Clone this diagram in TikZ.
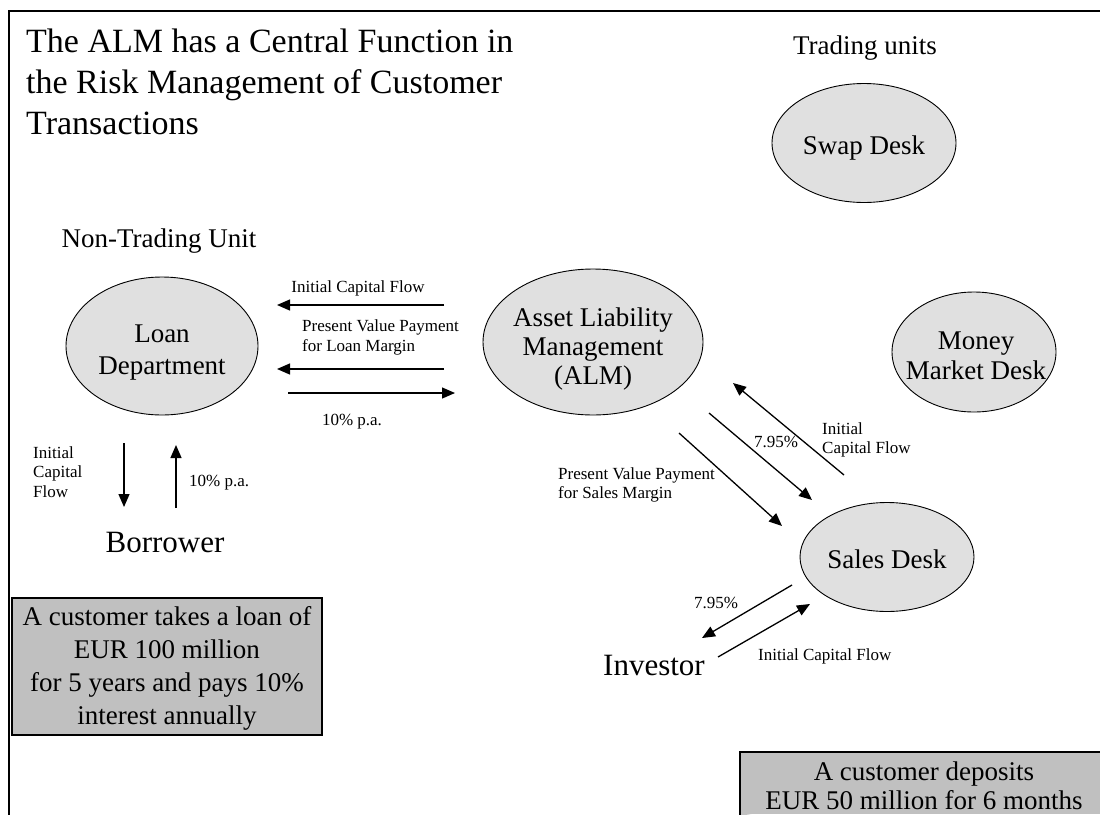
\documentclass[tikz,border=0pt]{standalone}
\usepackage{fontspec}
\setmainfont{Liberation Serif}
\usepackage{xcolor}
\usetikzlibrary{shapes.geometric,arrows.meta}
\definecolor{ovalgray}{HTML}{E0E0E0}
\definecolor{boxgray}{HTML}{C0C0C0}

\begin{document}
\begin{tikzpicture}[x=1pt, y=-1pt,
	unit/.style={ellipse, draw, line width=0.9pt, fill=ovalgray, inner sep=0pt},
	txt/.style={inner sep=0pt, align=center, font=\fontsize{27}{32}\selectfont},
	party/.style={inner sep=0pt, font=\fontsize{31}{37}\selectfont},
	lbl/.style={inner sep=0pt, align=left, font=\fontsize{17}{19.5}\selectfont},
	flow/.style={line width=1.3pt, -{Triangle[length=13pt, width=11pt]}}]
\useasboundingbox (0,0) rectangle (1100,814);
\clip (0,0) rectangle (1100,814);

% frame and boxes
\draw[line width=2pt] (9,816) -- (9,11) -- (1100,11);
\draw[line width=1.2pt, fill=boxgray] (12,598) rectangle (322,735);
\draw[line width=1.2pt, fill=boxgray] (740,816) -- (740,752) -- (1100,752);
\fill[boxgray] (740.6,752.6) rectangle (1100,814);

% texts
\node[txt, anchor=north west, align=left, font=\fontsize{34}{41}\selectfont] (title) at (26,29) {The ALM has a Central Function in\\the Risk Management of Customer\\Transactions};
\node[txt] (trading) at (865,48) {Trading units};
\node[txt] (nontrading) at (159,241) {Non-Trading Unit};
\node[txt, font=\fontsize{27}{33}\selectfont] (loanbox) at (167,668) {A customer takes a loan of\\EUR 100 million\\for 5 years and pays 10\%\\interest annually};
\node[txt, font=\fontsize{27}{29}\selectfont] (depositbox) at (924,786) {A customer deposits\\EUR 50 million for 6 months};

% units
\node[unit, minimum width=184pt, minimum height=119pt] (swap) at (864,143) {};
\node[unit, minimum width=192pt, minimum height=138pt] (loan) at (162,346) {};
\node[unit, minimum width=220pt, minimum height=146pt] (alm) at (593,342) {};
\node[unit, minimum width=164pt, minimum height=120pt] (money) at (974,352) {};
\node[unit, minimum width=174pt, minimum height=109pt] (sales) at (887,557) {};
\node[txt] (swaptxt) at ([yshift=-5pt]swap.center) {Swap Desk};
\node[txt] (loantxt) at ([yshift=-6.5pt]loan.center) {Loan\\Department};
\node[txt, font=\fontsize{27}{29}\selectfont] (almtxt) at ([yshift=-7.5pt]alm.center) {Asset Liability\\Management\\(ALM)};
\node[txt, font=\fontsize{27}{30}\selectfont] (moneytxt) at ([xshift=2pt, yshift=-3.5pt]money.center) {Money\\Market Desk};
\node[txt] (salestxt) at ([yshift=-2pt]sales.center) {Sales Desk};
\node[party] (borrower) at (165,542) {Borrower};
\node[party] (investor) at (654,665) {Investor};

% arrow ends
\coordinate (capL) at (444,305);  \coordinate (capLend) at (277,305);
\coordinate (pvL) at (444,369);   \coordinate (pvLend) at (277,369);
\coordinate (intL) at (288,393);  \coordinate (intLend) at (455,393);
\coordinate (capB) at (124,443);  \coordinate (capBend) at (124,507);
\coordinate (intB) at (176,508);  \coordinate (intBend) at (176,445);
\coordinate (capS) at (844,475);  \coordinate (capSend) at (733,383);
\coordinate (rateS) at (709,413); \coordinate (rateSend) at (812,500);
\coordinate (pvS) at (679,433);   \coordinate (pvSend) at (782,526);
\coordinate (rateI) at (792,585); \coordinate (rateIend) at (702,638);
\coordinate (capI) at (718,657);  \coordinate (capIend) at (810,604);

\draw[flow] (capL) -- (capLend);
\draw[flow] (pvL) -- (pvLend);
\draw[flow] (intL) -- (intLend);
\draw[flow] (capB) -- (capBend);
\draw[flow] (intB) -- (intBend);
\draw[flow] (capS) -- (capSend);
\draw[flow] (rateS) -- (rateSend);
\draw[flow] (pvS) -- (pvSend);
\draw[flow] (rateI) -- (rateIend);
\draw[flow] (capI) -- (capIend);

% labels
\node[lbl] (capLlbl) at (358,288) {Initial Capital Flow};
\node[lbl, anchor=west] (pvLlbl) at (302,337.5) {Present Value Payment\\for Loan Margin};
\node[lbl] (intLlbl) at (352,422) {10\% p.a.};
\node[lbl, anchor=west] (capBlbl) at (33,472) {Initial\\Capital\\Flow};
\node[lbl, anchor=west] (intBlbl) at (189,483) {10\% p.a.};
\node[lbl, anchor=west] (capSlbl) at (822,440) {Initial\\Capital Flow};
\node[lbl] (rateSlbl) at (776,442) {7.95\%};
\node[lbl, anchor=west] (pvSlbl) at (558,485) {Present Value Payment\\for Sales Margin};
\node[lbl] (rateIlbl) at (716,603) {7.95\%};
\node[lbl, anchor=west] (capIlbl) at (758,656) {Initial Capital Flow};
\end{tikzpicture}
\end{document}
